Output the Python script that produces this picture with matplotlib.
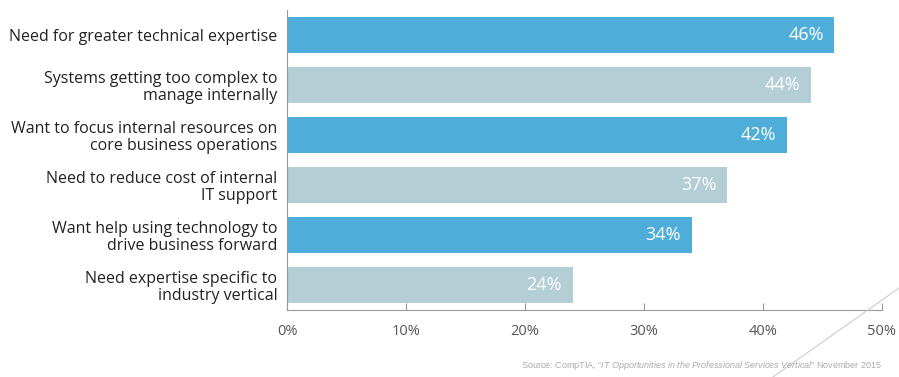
import matplotlib.pyplot as plt
from matplotlib.lines import Line2D

plt.rcParams['font.family'] = ['Open Sans', 'DejaVu Sans']
plt.rcParams['mathtext.fontset'] = 'custom'
plt.rcParams['mathtext.it'] = 'Liberation Sans:italic'
plt.rcParams['mathtext.rm'] = 'Liberation Sans'

reasons = [
    "Need for greater technical expertise",
    "Systems getting too complex to\nmanage internally",
    "Want to focus internal resources on\ncore business operations",
    "Need to reduce cost of internal\nIT support",
    "Want help using technology to\ndrive business forward",
    "Need expertise specific to\nindustry vertical",
]
values = [46, 44, 42, 37, 34, 24]
ticks = [0, 10, 20, 30, 40, 50]

dark = '#4faed9'
light = '#b3cfd5'
colors = [dark if i % 2 == 0 else light for i in range(len(values))]

fig = plt.figure(figsize=(8.99, 3.77), dpi=100)
ax = fig.add_axes([287 / 899, 1 - 310 / 377, 595 / 899, 300 / 377])

y = range(len(values))
ax.barh(y, values, height=0.72, color=colors)
for i, v in enumerate(values):
    ax.text(v - 0.9, i, f"{v}%", ha='right', va='center', color='white',
            fontsize=13)

ax.set_xlim(0, 50)
ax.set_ylim(len(values) - 0.5, -0.5)
ax.set_yticks(list(y))
ax.set_yticklabels(reasons, fontsize=11.5, color='#222222', linespacing=1.05)
ax.set_xticks(ticks)
ax.set_xticklabels([f"{t}%" for t in ticks], fontsize=10.5, color='#555555')
ax.tick_params(axis='y', length=0, pad=7)
ax.tick_params(axis='x', direction='in', length=5, color='#999999', pad=10)

for s in ['top', 'right']:
    ax.spines[s].set_visible(False)
for s in ['left', 'bottom']:
    ax.spines[s].set_color('#999999')
    ax.spines[s].set_linewidth(0.8)

fig.text(882 / 899, 1 - 366 / 377,
         "Source: CompTIA, \u201c$\\it{IT\\ Opportunities\\ in\\ the\\ Professional\\ Services\\ Vertical}$\u201d November 2015",
         ha='right', va='center', fontsize=6.5, color='#aaaaaa', family='Liberation Sans')

fig.add_artist(Line2D([773 / 899, 1.0], [0, 1 - 288 / 377], transform=fig.transFigure,
                      color='#cccccc', linewidth=0.8))

fig.savefig('out.png', dpi=100)
